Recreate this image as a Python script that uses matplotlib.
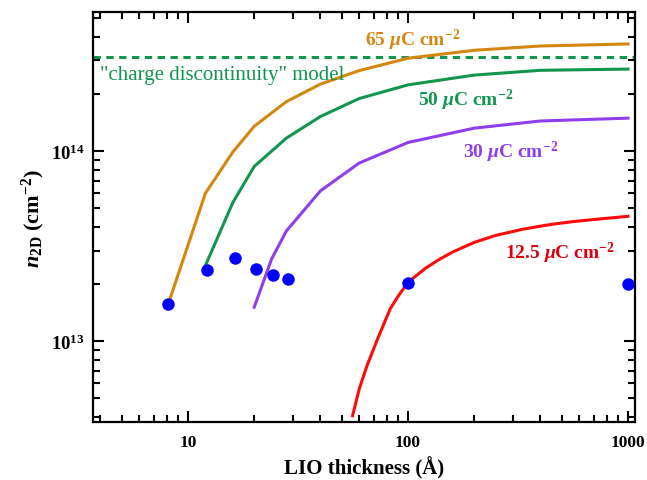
import matplotlib
matplotlib.use("Agg")
import matplotlib.pyplot as plt
from matplotlib.ticker import LogLocator, NullFormatter, FixedLocator, FixedFormatter

plt.rcParams['font.family'] = ['Liberation Serif', 'DejaVu Serif']
plt.rcParams['mathtext.fontset'] = 'custom'
plt.rcParams['mathtext.rm'] = 'Liberation Serif:bold'
plt.rcParams['mathtext.bf'] = 'Liberation Serif:bold'
plt.rcParams['mathtext.it'] = 'Liberation Serif:italic:bold'

# ---- data ----
t_65 = [8, 12, 16, 20, 28, 40, 60, 100, 200, 400, 1000]
n_65 = [1.48e13, 6.0e13, 0.99e14, 1.35e14, 1.82e14, 2.25e14, 2.65e14, 3.08e14, 3.39e14, 3.57e14, 3.66e14]

t_50 = [12, 16, 20, 28, 40, 60, 100, 200, 400, 1000]
n_50 = [2.5e13, 5.37e13, 8.3e13, 1.17e14, 1.52e14, 1.89e14, 2.23e14, 2.51e14, 2.66e14, 2.70e14]

t_30 = [20, 24, 28, 40, 60, 100, 200, 400, 1000]
n_30 = [1.51e13, 2.71e13, 3.8e13, 6.18e13, 8.65e13, 1.11e14, 1.32e14, 1.44e14, 1.49e14]

t_12 = [56, 60, 65, 70, 75, 83, 90, 100, 120, 140, 160, 200, 250, 335, 450, 565, 750, 1000]
n_12 = [4.06e12, 5.6e12, 7.4e12, 9.2e12, 1.12e13, 1.48e13, 1.72e13, 2.04e13, 2.42e13, 2.71e13,
        2.95e13, 3.31e13, 3.6e13, 3.89e13, 4.12e13, 4.26e13, 4.4e13, 4.54e13]

t_exp = [8.1, 12.2, 16.4, 20.4, 24.4, 28.6, 100, 1000]
n_exp = [1.57e13, 2.37e13, 2.74e13, 2.41e13, 2.24e13, 2.13e13, 2.02e13, 2.0e13]

n_model = 3.12e14

x_ticks = [10, 100, 1000]
x_ticklabels = ['10', '100', '1000']
y_ticks = [1e13, 1e14]
y_ticklabels = [r'$\mathregular{10^{13}}$', r'$\mathregular{10^{14}}$']

c_or = '#D4870F'
c_gr = '#119650'
c_pu = '#8E3FEA'
c_rd = '#FF0A0A'

fig = plt.figure(figsize=(6.47, 4.81), dpi=100)
ax = fig.add_axes([0.1437, 0.1206, 0.8378, 0.8524])
ax.set_xscale('log')
ax.set_yscale('log')
ax.set_xlim(3.70, 1076)
ax.set_ylim(3.76e12, 5.39e14)

ax.axhline(n_model, color=c_gr, lw=2.2, ls=(0, (2.4, 1.8)))
ax.plot(t_65, n_65, color=c_or, lw=2.2)
ax.plot(t_50, n_50, color=c_gr, lw=2.2)
ax.plot(t_30, n_30, color=c_pu, lw=2.2)
ax.plot(t_12, n_12, color=c_rd, lw=2.2)
ax.plot(t_exp, n_exp, 'o', color='#0000FF', ms=9, mec='none', zorder=5)

tfs = 14
ax.text(63.8, 3.88e14, r'65 $\mu$C cm$^{-2}$', color=c_or, fontsize=tfs, fontweight='bold', va='center', ha='left')
ax.text(3.98, 2.52e14, '"charge discontinuity" model', color=c_gr, fontsize=15, va='center', ha='left')
ax.text(111, 1.88e14, r'50 $\mu$C cm$^{-2}$', color=c_gr, fontsize=tfs, fontweight='bold', va='center', ha='left')
ax.text(178, 1.0e14, r'30 $\mu$C cm$^{-2}$', color=c_pu, fontsize=tfs, fontweight='bold', va='center', ha='left')
ax.text(276, 2.94e13, r'12.5 $\mu$C cm$^{-2}$', color='#D8000F', fontsize=tfs, fontweight='bold', va='center', ha='left')

for s in ax.spines.values():
    s.set_linewidth(1.6)

ax.xaxis.set_major_locator(FixedLocator(x_ticks))
ax.xaxis.set_major_formatter(FixedFormatter(x_ticklabels))
ax.xaxis.set_minor_locator(LogLocator(base=10, subs=range(2, 10)))
ax.xaxis.set_minor_formatter(NullFormatter())
ax.yaxis.set_major_locator(FixedLocator(y_ticks))
ax.yaxis.set_major_formatter(FixedFormatter(y_ticklabels))
ax.yaxis.set_minor_locator(LogLocator(base=10, subs=range(2, 10)))
ax.yaxis.set_minor_formatter(NullFormatter())

ax.tick_params(which='both', direction='in', top=True, right=True, width=1.5)
ax.tick_params(which='major', length=8, labelsize=12.5)
ax.tick_params(axis='y', which='major', labelsize=13.5, pad=6)
ax.tick_params(axis='x', which='major', pad=9)
ax.tick_params(which='minor', length=5)
for lab in ax.get_xticklabels() + ax.get_yticklabels():
    lab.set_fontweight('bold')

ax.set_xlabel('LIO thickness (Å)', fontsize=15, fontweight='bold', labelpad=4)
ax.set_ylabel(r'$n_{\mathregular{2D}}$ (cm$^{-2}$)', fontsize=16, fontweight='bold', labelpad=3)

fig.savefig('out.png', dpi=100)
